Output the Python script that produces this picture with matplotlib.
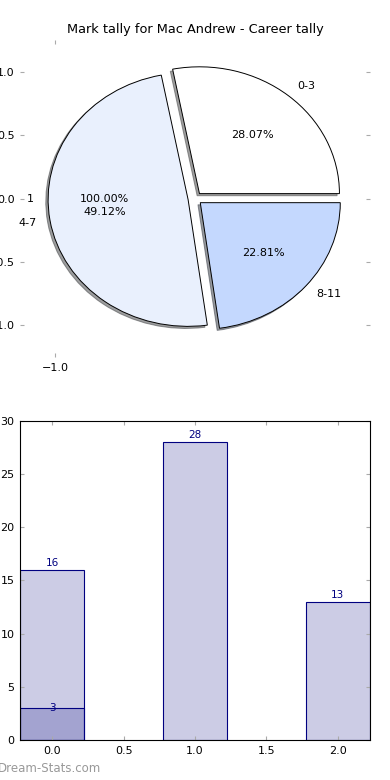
import matplotlib
matplotlib.use('Agg')
import matplotlib.pyplot as plt
import numpy as np

plt.rcParams['font.family'] = ['DejaVu Sans']

# 資料
pie_labels = ['0-3', '4-7', '8-11']
pie_values = [16, 28, 13]
pie_colors = ['#FFFFFF', '#E9F0FD', '#C4D8FE']
extra_labels = ['1']
extra_values = [3]

bar_x = [0, 1, 2]
bar_values = [16, 28, 13]
extra_x = [0]
extra_bar_values = [3]

title = 'Mark tally for Mac Andrew - Career tally'

fig = plt.figure(figsize=(3.9, 7.8), dpi=100)

# 圓餅圖
ax1 = fig.add_axes([0.0513, 0.5423, 0.8974, 0.4064])
w_extra, t_extra, a_extra = ax1.pie(extra_values, labels=extra_labels, explode=[0.05],
                                    autopct='%1.2f%%', textprops={'fontsize': 8})
for w in w_extra:
    w.set_visible(False)
wedges, texts, autotexts = ax1.pie(pie_values, labels=pie_labels, colors=pie_colors,
                                   explode=[0.05, 0.05, 0.05],
                                   shadow={'ox': -0.012, 'oy': -0.012, 'shade': 0.75},
                                   autopct='%1.2f%%',
                                   wedgeprops={'edgecolor': 'black', 'linewidth': 0.7},
                                   textprops={'fontsize': 8})
ax1.set_aspect('auto')
ax1.set_xlim(-1.25, 1.25)
ax1.set_ylim(-1.25, 1.25)
ax1.set_xticks([-1.0])
ax1.set_yticks([-1.0, -0.5, 0.0, 0.5, 1.0])
ax1.set_xticklabels(['\u22121.0'])
ax1.set_yticklabels(['\u22121.0', '\u22120.5', '0.0', '0.5', '1.0'])
for s in ax1.spines.values():
    s.set_visible(False)
ax1.tick_params(direction='in', length=3, color='#aaaaaa', labelsize=8,
                top=True, right=True, pad=4)
ax1.set_title(title, fontsize=9.3, pad=5)

# 長條圖
ax2 = fig.add_axes([0.0513, 0.0513, 0.8974, 0.409])
bars = ax2.bar(bar_x, bar_values, width=0.45, color='navy', alpha=0.2)
ax2.bar(bar_x, bar_values, width=0.45, fill=False, edgecolor='navy', linewidth=0.8)
bars2 = ax2.bar(extra_x, extra_bar_values, width=0.45, color='navy', alpha=0.2)
ax2.bar(extra_x, extra_bar_values, width=0.45, fill=False, edgecolor='navy', linewidth=0.8)
for x, v in zip(bar_x, bar_values):
    ax2.annotate(str(v), (x, v), xytext=(0, 1.5), textcoords='offset points',
                 ha='center', va='bottom', fontsize=7.5, color='navy')
for x, v in zip(extra_x, extra_bar_values):
    ax2.annotate(str(v), (x, v), ha='center', va='center', fontsize=7.5, color='navy')
ax2.set_xlim(-0.225, 2.225)
ax2.set_ylim(0, 30)
ax2.set_xticks([0.0, 0.5, 1.0, 1.5, 2.0])
ax2.set_yticks([0, 5, 10, 15, 20, 25, 30])
ax2.tick_params(direction='in', length=3, color='#aaaaaa', labelsize=8,
                top=True, right=True, pad=4)

fig.text(-0.005, 0.01, 'Dream-Stats.com', fontsize=8.5, color='#999999')

fig.savefig('out.png', dpi=100)
